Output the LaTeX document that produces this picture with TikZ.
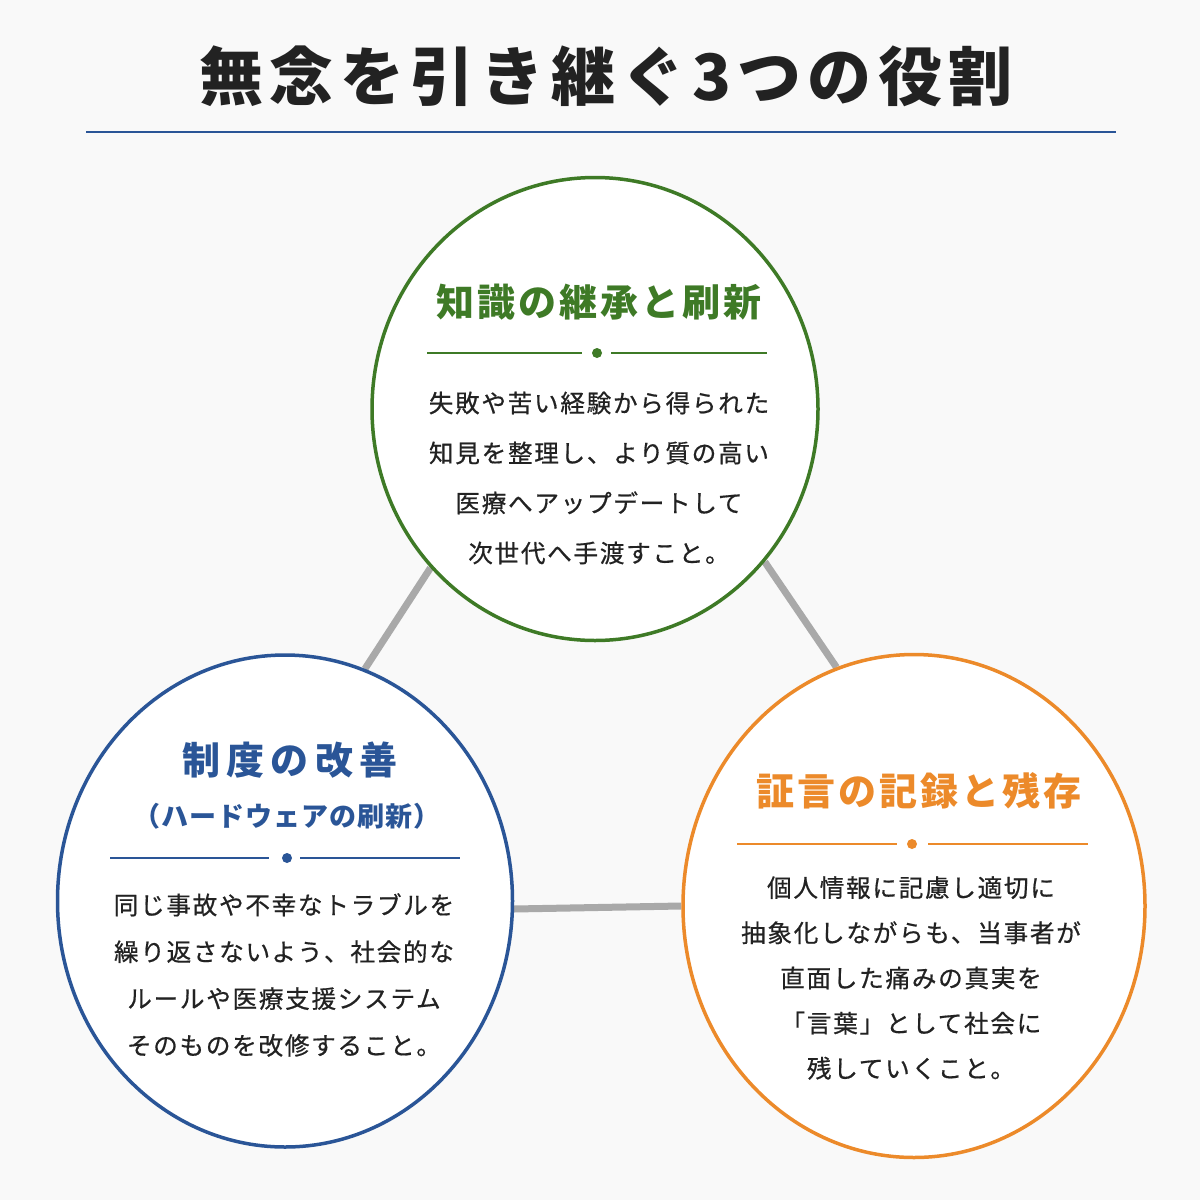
\documentclass[tikz,border=0pt]{standalone}
\usepackage{fontspec}
\setmainfont{Noto Sans CJK JP}
\usetikzlibrary{shapes.geometric}
\pgfdeclarelayer{bg}
\pgfsetlayers{bg,main}

\definecolor{kgreen}{HTML}{3E7A26}
\definecolor{kblue}{HTML}{2A5597}
\definecolor{korange}{HTML}{EC8A2A}
\definecolor{kgray}{HTML}{A9A9A9}
\definecolor{ktext}{HTML}{222222}
\definecolor{kback}{HTML}{F9F9F9}

\tikzset{
  role/.style={ellipse, draw=#1, line width=1.75pt, fill=white, inner sep=0pt},
  head/.style 2 args={text=#1, font=\fontsize{19}{22}\selectfont\bfseries\addfontfeatures{LetterSpace=#2}},
  body/.style={text=ktext, align=center, font=\fontsize{12.3}{#1}\selectfont\addfontfeatures{LetterSpace=7,FakeBold=0.6}},
  link/.style={kgray, line width=3.5pt},
  rule/.style={#1, line width=1.25pt}
}

\begin{document}
\begin{tikzpicture}[x=0.5pt, y=-0.5pt]

    \useasboundingbox (0,0) rectangle (1200,1200);

    \node[text=ktext, font=\fontsize{32}{36}\selectfont\bfseries\addfontfeatures{LetterSpace=10}] (title) at (606,76) {無念を引き継ぐ3つの役割};
    \draw[rule=kblue] (86,132) -- (1116,132);

    \node[role=kgreen, minimum width=223pt, minimum height=231.5pt] (know) at (595,409) {};
    \node[role=kblue, minimum width=227.5pt, minimum height=246pt] (sys) at (285,901) {};
    \node[role=korange, minimum width=231pt, minimum height=251.5pt] (voice) at (914,906) {};

    \begin{pgfonlayer}{bg}
        \fill[kback] (0,0) rectangle (1200,1200);
        \draw[link] (know.224) -- (sys.71);
        \draw[link] (know.318) -- (voice.108);
        \draw[link] (sys.358.3) -- (voice.180.5);
    \end{pgfonlayer}

    \node[head={kgreen}{8}] (knowhead) at (599,302) {知識の継承と刷新};
    \draw[rule=kgreen] (427,353) -- (582,353);
    \fill[kgreen] (597,353) circle [radius=5];
    \draw[rule=kgreen] (611,353) -- (767,353);
    \node[body=25pt] (knowtext) at (599,478) {失敗や苦い経験から得られた\\知見を整理し、より質の高い\\医療へアップデートして\\次世代へ手渡すこと。};

    \node[head={kblue}{17}] (syshead) at (290,760) {制度の改善};
    \node[text=kblue, font=\fontsize{13.5}{16}\selectfont\bfseries\addfontfeatures{LetterSpace=4}] (syssub) at (287,816) {（ハードウェアの刷新）};
    \draw[rule=kblue] (110,858) -- (269,858);
    \fill[kblue] (287,858) circle [radius=5];
    \draw[rule=kblue] (300,858) -- (460,858);
    \node[body=23.4pt] (systext) at (284,975) {同じ事故や不幸なトラブルを\\繰り返さないよう、社会的な\\ルールや医療支援システム\\そのものを改修すること。};

    \node[head={korange}{8}] (voicehead) at (919,791) {証言の記録と残存};
    \draw[rule=korange] (737,844) -- (897,844);
    \fill[korange] (912,844) circle [radius=5];
    \draw[rule=korange] (928,844) -- (1088,844);
    \node[body=22.6pt] (voicetext) at (911,978) {個人情報に記慮し適切に\\抽象化しながらも、当事者が\\直面した痛みの真実を\\「言葉」として社会に\\残していくこと。};

\end{tikzpicture}
\end{document}
